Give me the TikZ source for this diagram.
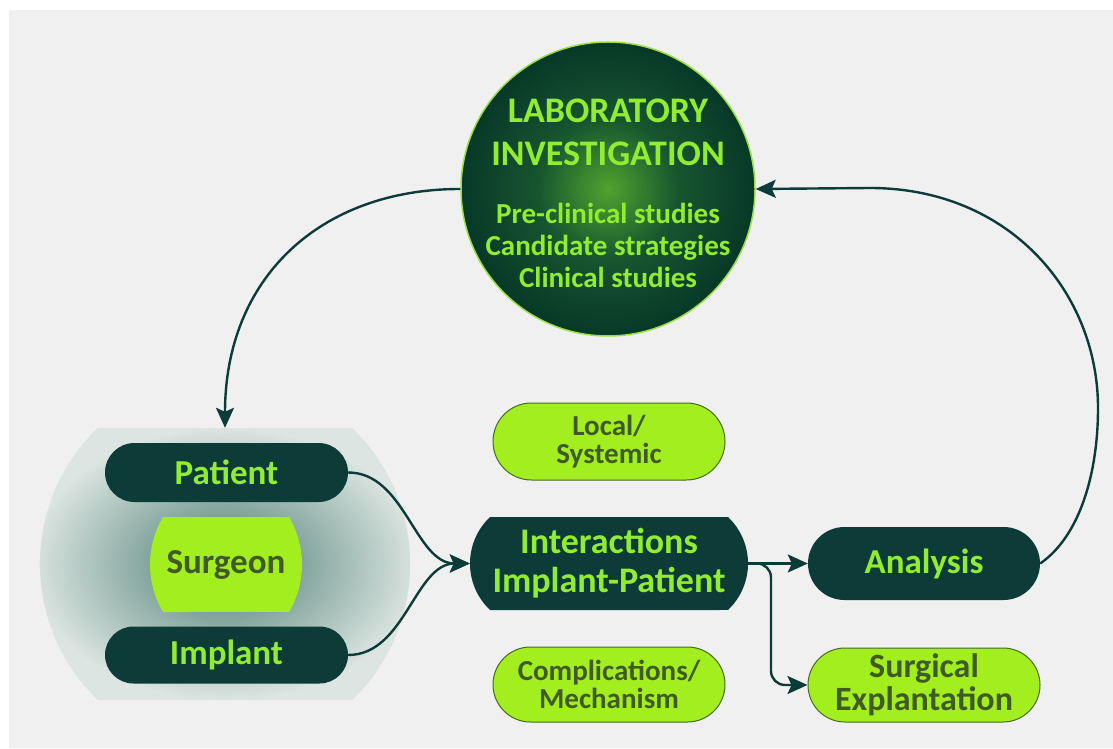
\documentclass[tikz,border=0pt]{standalone}
\usepackage{fontspec}
\setmainfont{Carlito}
\usetikzlibrary{shapes.misc,arrows.meta,calc}
\definecolor{dk}{HTML}{0D3B38}
\definecolor{brt}{HTML}{92EC30}
\definecolor{lime}{HTML}{A2EE1E}
\definecolor{olive}{HTML}{3F5A23}
\definecolor{limeline}{HTML}{4A6A20}
\definecolor{bggray}{HTML}{F0F0F0}
\definecolor{grpIn}{HTML}{4A7D73}
\definecolor{grpOut}{HTML}{DCE5E1}
\definecolor{labIn}{HTML}{4FA32E}
\definecolor{labMid}{HTML}{17552F}
\definecolor{labOut}{HTML}{073828}
\definecolor{labRim}{HTML}{9BE040}
\pgfdeclareradialshading{labshade}{\pgfpoint{0bp}{0bp}}{color(0bp)=(labIn); color(12bp)=(labMid); color(25bp)=(labOut); color(50bp)=(labOut)}
\tikzset{
  conn/.style={draw=dk, line width=2.4pt, -{Stealth[length=20pt,width=18pt,inset=4pt]}},
  darkpill/.style={rounded rectangle, fill=dk, text=brt, inner sep=0pt, font=\bfseries\fontsize{35}{40}\selectfont},
  limepill/.style={rounded rectangle, fill=lime, draw=limeline, line width=1pt, text=olive, inner sep=0pt, align=center, font=\bfseries\fontsize{29}{27.5}\selectfont},
  txt/.style={inner sep=0pt, align=center}
}
\begin{document}
\begin{tikzpicture}[x=1pt,y=1pt]
\useasboundingbox (0,0) rectangle (1113,748);
\fill[white] (0,0) rectangle (1113,748);
\fill[bggray] (9,0) rectangle (1113,738);

% group container
\shade[inner color=grpIn, outer color=grpOut]
  (98,320) -- (352,320) arc[start angle=46.7, end angle=-46.7, x radius=185, y radius=187]
  -- (98,48) arc[start angle=226.7, end angle=133.3, x radius=185, y radius=187] -- cycle;
\node[minimum width=370pt, minimum height=272pt, inner sep=0pt] (grp) at (225,184) {};

% laboratory circle
\node[circle, minimum size=294pt, inner sep=0pt, shading=labshade, draw=labRim, line width=1.5pt] (lab) at (608,559) {};
\node[txt, text=brt, font=\bfseries\fontsize{36}{43}\selectfont] (labtitle) at (608,616) {LABORATORY\\INVESTIGATION};
\node[txt, text=brt, font=\bfseries\fontsize{29}{32}\selectfont] (labsub) at (608,502.5) {Pre-clinical studies\\Candidate strategies\\Clinical studies};

% pills
\node[darkpill, minimum width=243pt, minimum height=59pt] (pat) at (226.5,275.5) {Patient};
\node[darkpill, minimum width=243pt, minimum height=57pt] (imp) at (226.5,93) {Implant};

% surgeon barrel
\fill[lime] (163,231) -- (289,231) arc[start angle=30.6, end angle=-30.6, radius=93.3]
  -- (163,136) arc[start angle=210.6, end angle=149.4, radius=93.3] -- cycle;
\node[txt, text=olive, font=\bfseries\fontsize{35}{40}\selectfont] (surg) at (226,183.5) {Surgeon};

% interactions barrel
\fill[dk] (490,231) -- (728,231) arc[start angle=46.6, end angle=-46.6, radius=64]
  -- (490,138) arc[start angle=226.6, end angle=133.4, radius=64] -- cycle;
\node[txt, text=brt, font=\bfseries\fontsize{36}{39}\selectfont, minimum width=278pt, minimum height=93pt] (inter) at (609,184.5) {Interactions\\Implant-Patient};

\node[limepill, minimum width=232pt, minimum height=77pt] (loc) at (609,306.5) {Local/\\Systemic};
\node[limepill, minimum width=232pt, minimum height=75pt] (comp) at (609,63.5) {Complications/\\Mechanism};
\node[darkpill, minimum width=232pt, minimum height=73pt] (ana) at (924,184.5) {Analysis};
\node[limepill, minimum width=232pt, minimum height=74pt, font=\bfseries\fontsize{34}{33}\selectfont] (sur) at (924,63) {Surgical\\Explantation};

% connectors
\draw[conn] (lab.west) .. controls (320,559) and (225,470) .. (grp.north);
\draw[conn] (ana.east) .. controls (1080,212) and (1098,275) .. (1098,340)
  .. controls (1098,455) and (1010,560) .. (870,560) -- (lab.east);
\draw[conn] (pat.east) .. controls (405,275.5) and (415,184.5) .. (inter.west);
\draw[conn] (imp.east) .. controls (405,93) and (415,184.5) .. (inter.west);
\draw[conn] (inter.east) -- (ana.west);
\draw[conn, rounded corners=14pt] (inter.east) -- (771,184.5) -- (771,63) -- (sur.west);
\end{tikzpicture}
\end{document}
